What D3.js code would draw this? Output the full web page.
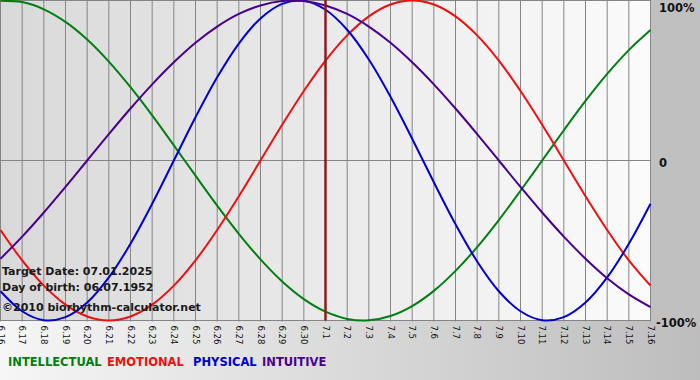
<!DOCTYPE html>
<html><head><meta charset="utf-8">
<script src="https://cdn.jsdelivr.net/npm/d3@7"></script>
<style>html,body{margin:0;padding:0;overflow:hidden;background:#fff}</style>
</head><body>
<svg id="c" width="700" height="380"></svg>
<script>
const days = ["6.16","6.17","6.18","6.19","6.20","6.21","6.22","6.23","6.24","6.25","6.26","6.27","6.28","6.29","6.30","7.1","7.2","7.3","7.4","7.5","7.6","7.7","7.8","7.9","7.10","7.11","7.12","7.13","7.14","7.15","7.16"];
const intellectual = [99.9,99.0,94.5,86.6,75.6,61.8,45.8,28.2,9.5,-9.5,-28.2,-45.8,-61.8,-75.6,-86.6,-94.5,-99.0,-99.9,-97.2,-91.0,-81.5,-69.0,-54.1,-37.2,-18.9,0,18.9,37.2,54.1,69.0,81.5];
const emotional = [-43.4,-62.4,-78.2,-90.1,-97.5,-100,-97.5,-90.1,-78.2,-62.4,-43.4,-22.3,0,22.3,43.4,62.4,78.2,90.1,97.5,100,97.5,90.1,78.2,62.4,43.4,22.3,0,-22.3,-43.4,-62.4,-78.2];
const physical = [-81.7,-94.2,-99.8,-97.9,-88.8,-73.1,-52.0,-27.0,0,27.0,52.0,73.1,88.8,97.9,99.8,94.2,81.7,63.1,39.8,13.6,-13.6,-39.8,-63.1,-81.7,-94.2,-99.8,-97.9,-88.8,-73.1,-52.0,-27.0];
const intuitive = [-61.4,-47.6,-32.5,-16.5,0,16.5,32.5,47.6,61.4,73.6,83.7,91.6,96.9,99.7,99.7,96.9,91.6,83.7,73.6,61.4,47.6,32.5,16.5,0,-16.5,-32.5,-47.6,-61.4,-73.6,-83.7,-91.6];
const seriesNames = ["INTELLECTUAL","EMOTIONAL","PHYSICAL","INTUITIVE"];
const seriesColors = ["#007f10","#ee0f0f","#0000d0","#480090"];
const yLabels = ["100%","0","-100%"];
const yLabelValues = [100,0,-100];
const targetDay = "7.1";
const infoLines = ["Target Date: 07.01.2025","Day of birth: 06.07.1952","©2010 biorhythm-calculator.net"];

const svg = d3.select("#c");
const W = 700, H = 380;
const L = 0.5, R = 650.5, T = 0.5, B = 320.5;
const font = "'DejaVu Sans', Verdana, sans-serif";

const defs = svg.append("defs");
const g1 = defs.append("linearGradient").attr("id","bg").attr("x1","0").attr("x2","1").attr("y1","0").attr("y2","0");
g1.append("stop").attr("offset","0").attr("stop-color","#f6f6f6");
g1.append("stop").attr("offset","1").attr("stop-color","#bdbdbd");
const g2 = defs.append("linearGradient").attr("id","pbg").attr("x1","0").attr("x2","1").attr("y1","0").attr("y2","0");
g2.append("stop").attr("offset","0").attr("stop-color","#d9d9d9");
g2.append("stop").attr("offset","1").attr("stop-color","#fbfbfb");

svg.append("rect").attr("width",W).attr("height",H).attr("fill","url(#bg)");
svg.append("rect").attr("x",651).attr("y",0).attr("width",49).attr("height",321).attr("fill","#c0c0c0");
svg.append("rect").attr("x",0).attr("y",0).attr("width",651).attr("height",321).attr("fill","url(#pbg)");

const x = d3.scalePoint().domain(days).range([L, R]);
const y = d3.scaleLinear().domain([-100, 100]).range([B, T]);

// vertical grid
svg.append("g").selectAll("line").data(days).join("line")
  .attr("x1", d => x(d)).attr("x2", d => x(d)).attr("y1", T).attr("y2", B + 1)
  .attr("stroke", "#858585").attr("stroke-width", 1);
// horizontal grid
svg.append("g").selectAll("line").data(yLabelValues).join("line")
  .attr("x1", 0).attr("x2", R + 0.5).attr("y1", d => y(d)).attr("y2", d => y(d))
  .attr("stroke", "#858585").attr("stroke-width", 1);

// x tick labels (rotated)
svg.append("g").selectAll("text").data(days).join("text")
  .attr("transform", d => `translate(${x(d) - 3},${B + 5}) rotate(90)`)
  .attr("font-family", font).attr("font-size", 8.5).attr("fill", "#111")
  .text(d => d);

// y labels
svg.append("g").selectAll("text").data(yLabels).join("text")
  .attr("x", (d,i) => i === 2 ? 656 : 659)
  .attr("y", (d,i) => y(yLabelValues[i]) + (i === 0 ? 11 : 6))
  .attr("font-family", font).attr("font-size", 11.5).attr("font-weight", "bold").attr("fill", "#111")
  .text(d => d);

// curves
const allSeries = [intellectual, emotional, physical, intuitive];
const line = d3.line().x((d,i) => x(days[i])).y(d => y(d)).curve(d3.curveCatmullRom);
svg.append("g").selectAll("path").data(allSeries).join("path")
  .attr("d", d => line(d)).attr("fill", "none")
  .attr("stroke", (d,i) => seriesColors[i]).attr("stroke-width", 2);

// target day line
svg.append("line").attr("x1", x(targetDay)).attr("x2", x(targetDay)).attr("y1", 0).attr("y2", B)
  .attr("stroke", "#8a1c1c").attr("stroke-width", 2.5);

// info text
svg.append("g").selectAll("text").data(infoLines).join("text")
  .attr("x", 2).attr("y", (d,i) => [275, 291, 311][i])
  .attr("font-family", font).attr("font-size", 11).attr("font-weight", "bold").attr("fill", "#1a1a1a")
  .text(d => d);

// legend
const legX = [8, 107, 193, 262];
svg.append("g").selectAll("text").data(seriesNames).join("text")
  .attr("x", (d,i) => legX[i]).attr("y", 366)
  .attr("font-family", font).attr("font-size", 11.5).attr("font-weight", "bold")
  .attr("fill", (d,i) => seriesColors[i])
  .text(d => d);
</script>
</body></html>
